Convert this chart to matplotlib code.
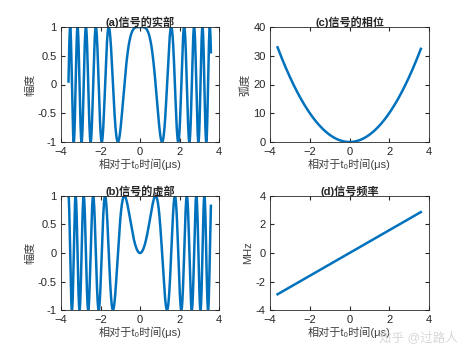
import numpy as np
import matplotlib
matplotlib.use("Agg")
import matplotlib.pyplot as plt

plt.rcParams['font.family'] = ['Liberation Sans', 'Noto Sans CJK SC', 'DejaVu Sans']

# LFM pulse parameters
t_start = -3.62      # us
t_end = 3.59         # us
chirp_rate = 0.8     # MHz/us  (f = K*t, phase = pi*K*t^2)
n_samples = 2000

titles = ['(a)信号的实部', '(c)信号的相位', '(b)信号的虚部', '(d)信号频率']
ylabels = ['幅度', '弧度', '幅度', 'MHz']
xlabel = '相对于t₀时间(μs)'

t = np.linspace(t_start, t_end, n_samples)
phase = np.pi * chirp_rate * t ** 2
freq = chirp_rate * t
real_part = np.cos(phase)
imag_part = np.sin(phase)

blue = '#0072BD'
W, H = 474, 355
fig = plt.figure(figsize=(W / 100, H / 100), dpi=100)

# axes boxes in pixels: left, right, top, bottom
boxes = [(61, 219, 27, 142), (270, 429, 27, 142),
         (61, 219, 196, 310), (270, 429, 196, 310)]
series = [real_part, phase, imag_part, freq]
ylims = [(-1, 1), (0, 40), (-1, 1), (-4, 4)]
yticks = [[-1, -0.5, 0, 0.5, 1], [0, 10, 20, 30, 40],
          [-1, -0.5, 0, 0.5, 1], [-4, -2, 0, 2, 4]]

for i, (l, r, tp, b) in enumerate(boxes):
    ax = fig.add_axes([l / W, 1 - b / H, (r - l) / W, (b - tp) / H])
    ax.plot(t, series[i], color=blue, lw=1.8)
    ax.set_xlim(-4, 4)
    ax.set_ylim(*ylims[i])
    ax.set_xticks([-4, -2, 0, 2, 4])
    ax.set_yticks(yticks[i])
    ax.set_yticklabels([f'{v:g}' for v in yticks[i]])
    ax.tick_params(direction='in', length=3, labelsize=8, top=True, right=True,
                   colors='#262626')
    ax.tick_params(axis='x', pad=3.5)
    ax.tick_params(axis='y', pad=3)
    for s in ax.spines.values():
        s.set_color('#262626')
        s.set_linewidth(0.6)
    ax.set_title(titles[i], fontsize=8, pad=1, color='#262626', fontweight='bold')
    ax.set_xlabel(xlabel, fontsize=8, labelpad=1, color='#404040')
    ax.set_ylabel(ylabels[i], fontsize=8, labelpad=2, color='#404040')

fig.text(0.80, 0.04, '知乎 @过路人', fontsize=9, color='#d8d8d8')

fig.savefig('out.png', dpi=100)
